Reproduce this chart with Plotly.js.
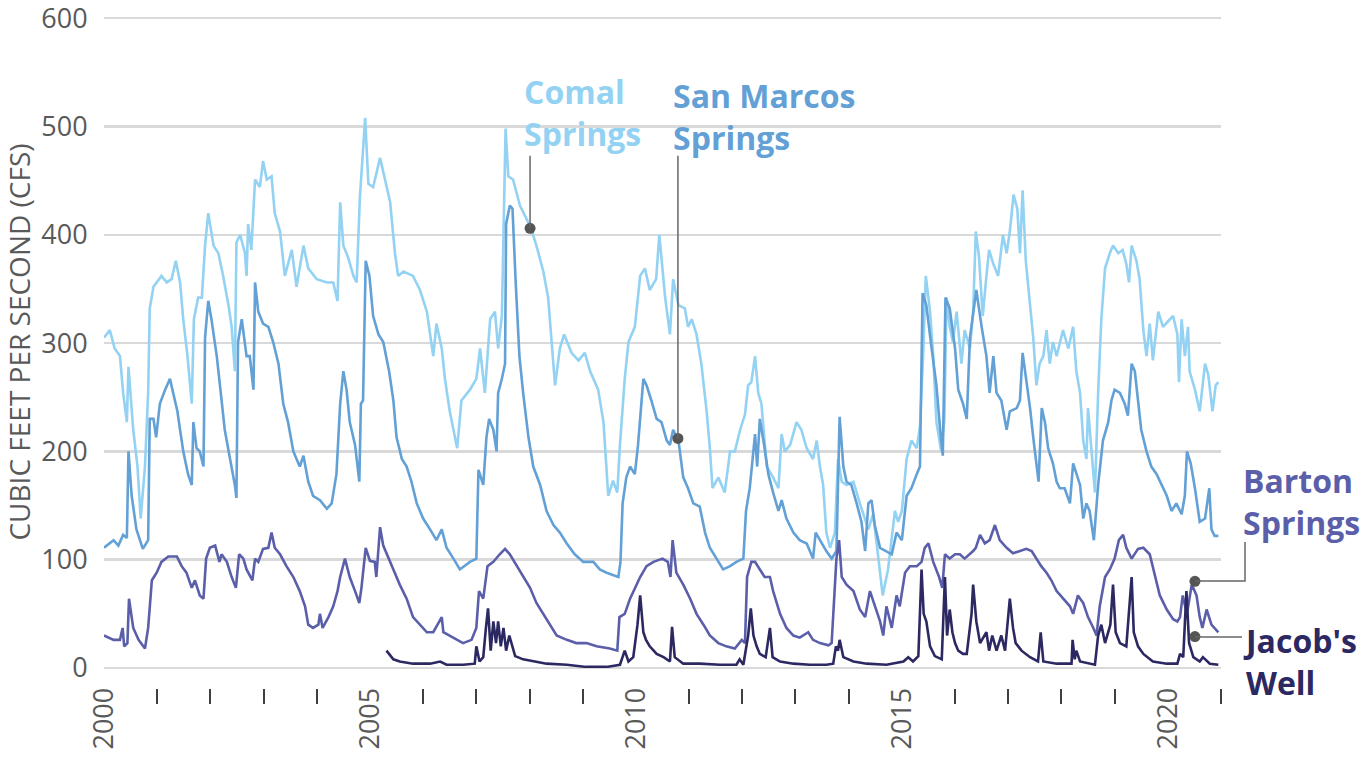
<!DOCTYPE html>
<html>
<head>
<meta charset="utf-8">
<script src="https://cdn.plot.ly/plotly-3.0.1.min.js"></script>
<style>html,body{margin:0;padding:0;background:#fff;}#chart{width:1367px;height:761px;}</style>
</head>
<body>
<div id="chart"></div>
<script>
// ---- Data (decimal years, cubic feet per second) ----
const comalYear = [2000.0,2000.11,2000.2,2000.3,2000.36,2000.43,2000.46,2000.55,2000.63,2000.69,2000.77,2000.83,2000.86,2000.93,2001.08,2001.18,2001.27,2001.35,2001.43,2001.49,2001.57,2001.65,2001.69,2001.77,2001.84,2001.9,2001.96,2002.06,2002.15,2002.24,2002.34,2002.4,2002.46,2002.49,2002.56,2002.65,2002.68,2002.71,2002.77,2002.84,2002.93,2002.99,2003.06,2003.15,2003.21,2003.31,2003.4,2003.53,2003.62,2003.75,2003.84,2004.0,2004.19,2004.31,2004.39,2004.44,2004.5,2004.59,2004.69,2004.75,2004.81,2004.91,2004.97,2005.06,2005.19,2005.28,2005.38,2005.47,2005.53,2005.63,2005.81,2005.94,2006.07,2006.19,2006.25,2006.35,2006.41,2006.5,2006.64,2006.72,2006.88,2007.0,2007.07,2007.16,2007.26,2007.35,2007.41,2007.48,2007.55,2007.6,2007.69,2007.82,2008.02,2008.13,2008.26,2008.35,2008.41,2008.48,2008.57,2008.65,2008.79,2008.92,2009.04,2009.14,2009.29,2009.39,2009.48,2009.57,2009.65,2009.7,2009.79,2009.86,2009.98,2010.08,2010.17,2010.26,2010.38,2010.44,2010.55,2010.64,2010.7,2010.8,2010.92,2010.98,2011.05,2011.14,2011.23,2011.33,2011.39,2011.44,2011.55,2011.67,2011.77,2011.86,2011.96,2012.05,2012.11,2012.17,2012.24,2012.3,2012.36,2012.46,2012.58,2012.68,2012.74,2012.8,2012.9,2013.02,2013.11,2013.21,2013.33,2013.4,2013.46,2013.52,2013.58,2013.65,2013.74,2013.8,2013.87,2013.96,2014.09,2014.21,2014.37,2014.46,2014.56,2014.64,2014.74,2014.81,2014.87,2014.93,2015.0,2015.09,2015.18,2015.28,2015.34,2015.4,2015.45,2015.53,2015.59,2015.65,2015.74,2015.8,2015.84,2015.9,2015.96,2016.03,2016.12,2016.18,2016.28,2016.34,2016.39,2016.45,2016.52,2016.59,2016.64,2016.72,2016.81,2016.9,2016.97,2017.03,2017.1,2017.17,2017.22,2017.27,2017.33,2017.41,2017.47,2017.53,2017.59,2017.66,2017.72,2017.78,2017.84,2017.91,2017.97,2018.03,2018.13,2018.22,2018.28,2018.35,2018.41,2018.47,2018.5,2018.57,2018.63,2018.69,2018.75,2018.82,2018.91,2018.97,2019.07,2019.15,2019.22,2019.27,2019.32,2019.41,2019.47,2019.54,2019.6,2019.66,2019.72,2019.82,2019.91,2020.04,2020.1,2020.18,2020.21,2020.26,2020.32,2020.38,2020.41,2020.51,2020.6,2020.7,2020.76,2020.84,2020.9,2020.95];
const comalCfs = [305,312,295,288,254,227,278,220,186,138,186,254,332,352,362,356,359,376,356,322,288,244,322,342,342,390,420,390,383,362,335,315,274,393,400,383,362,410,386,451,444,468,451,454,420,403,362,386,352,390,369,359,356,356,339,430,390,379,362,356,434,508,447,444,471,451,430,383,362,366,362,349,329,288,318,295,267,237,203,247,257,267,295,254,322,329,295,325,498,454,451,427,407,390,366,342,308,261,295,308,291,284,291,274,257,227,159,173,162,206,267,301,315,362,369,349,359,400,342,308,359,335,332,315,322,308,281,237,203,166,176,162,200,200,220,234,261,264,288,254,244,186,176,166,216,200,206,227,220,203,193,210,186,169,125,111,125,193,172,169,172,152,128,142,101,67,91,118,145,135,145,193,210,203,223,288,362,329,288,227,200,230,342,315,301,329,281,312,295,329,403,380,325,362,386,373,362,400,383,403,437,424,383,441,376,335,305,261,281,288,312,281,301,288,301,312,295,315,274,254,210,193,240,200,162,254,322,369,383,390,383,386,373,356,390,376,359,312,288,318,284,329,315,322,325,308,264,322,288,315,274,257,237,281,271,237,261,264];

const sanMarcosYear = [2000.0,2000.18,2000.27,2000.36,2000.43,2000.46,2000.52,2000.61,2000.73,2000.83,2000.86,2000.93,2000.98,2001.05,2001.15,2001.24,2001.3,2001.38,2001.43,2001.49,2001.58,2001.65,2001.68,2001.74,2001.8,2001.87,2001.9,2001.96,2002.02,2002.12,2002.18,2002.27,2002.37,2002.46,2002.49,2002.52,2002.59,2002.68,2002.74,2002.81,2002.84,2002.9,2002.99,2003.09,2003.18,2003.28,2003.37,2003.46,2003.56,2003.68,2003.75,2003.84,2003.93,2004.06,2004.19,2004.28,2004.37,2004.44,2004.5,2004.56,2004.62,2004.72,2004.8,2004.83,2004.87,2004.92,2004.99,2005.06,2005.16,2005.25,2005.36,2005.44,2005.5,2005.6,2005.69,2005.78,2005.88,2006.0,2006.13,2006.25,2006.35,2006.44,2006.57,2006.69,2006.88,2007.0,2007.04,2007.13,2007.19,2007.24,2007.32,2007.38,2007.41,2007.48,2007.54,2007.56,2007.63,2007.68,2007.74,2007.81,2007.88,2007.98,2008.07,2008.2,2008.32,2008.45,2008.57,2008.7,2008.85,2009.01,2009.2,2009.32,2009.45,2009.57,2009.67,2009.71,2009.75,2009.82,2009.89,2009.98,2010.04,2010.14,2010.2,2010.29,2010.39,2010.48,2010.58,2010.64,2010.7,2010.8,2010.89,2010.98,2011.08,2011.2,2011.3,2011.39,2011.52,2011.64,2011.77,2011.89,2012.02,2012.07,2012.14,2012.2,2012.24,2012.28,2012.33,2012.41,2012.49,2012.58,2012.68,2012.74,2012.83,2012.96,2013.08,2013.21,2013.33,2013.38,2013.46,2013.58,2013.68,2013.77,2013.83,2013.9,2013.96,2014.05,2014.15,2014.24,2014.31,2014.37,2014.43,2014.49,2014.59,2014.71,2014.81,2014.9,2015.0,2015.09,2015.18,2015.28,2015.34,2015.39,2015.46,2015.56,2015.65,2015.72,2015.77,2015.82,2015.9,2016.0,2016.06,2016.15,2016.22,2016.28,2016.34,2016.4,2016.5,2016.59,2016.65,2016.72,2016.78,2016.87,2016.97,2017.03,2017.16,2017.22,2017.27,2017.34,2017.41,2017.47,2017.53,2017.57,2017.63,2017.69,2017.75,2017.84,2017.91,2017.97,2018.06,2018.16,2018.22,2018.28,2018.35,2018.41,2018.47,2018.53,2018.61,2018.69,2018.78,2018.88,2018.94,2019.0,2019.1,2019.19,2019.25,2019.32,2019.38,2019.44,2019.5,2019.6,2019.69,2019.79,2019.88,2019.98,2020.07,2020.16,2020.26,2020.32,2020.36,2020.43,2020.51,2020.6,2020.7,2020.78,2020.82,2020.88,2020.95];
const sanMarcosCfs = [111,118,113,123,120,200,159,128,110,118,230,230,213,244,257,267,254,237,220,200,179,169,227,203,200,186,305,339,322,288,261,220,193,169,157,301,322,288,288,257,356,329,318,315,301,281,244,227,200,186,196,172,159,155,147,152,179,244,274,257,227,206,172,244,247,376,362,325,308,301,274,247,213,193,186,172,152,138,128,118,128,111,101,91,98,101,183,169,213,230,220,200,254,267,281,410,427,424,356,288,254,213,186,169,145,132,125,115,105,98,98,91,88,86,84,98,152,176,186,179,206,267,261,247,230,227,210,206,220,210,176,166,152,149,125,111,101,91,94,98,101,145,166,200,216,186,230,206,179,162,145,155,138,125,118,115,101,125,118,108,101,108,232,186,172,169,152,135,108,152,155,132,111,108,105,125,118,159,166,179,186,346,335,295,261,220,196,342,332,295,257,244,230,305,329,349,315,288,254,288,254,247,220,237,240,247,291,267,240,213,186,172,240,227,203,189,172,166,166,152,189,179,169,138,152,145,118,169,210,227,247,257,254,244,233,281,274,247,220,200,186,179,169,159,145,152,142,159,200,189,166,135,138,166,128,122,122];

const bartonYear = [2000.0,2000.18,2000.3,2000.35,2000.38,2000.44,2000.47,2000.55,2000.65,2000.77,2000.83,2000.9,2000.99,2001.08,2001.21,2001.37,2001.46,2001.55,2001.65,2001.71,2001.8,2001.87,2001.92,2001.99,2002.09,2002.17,2002.21,2002.31,2002.4,2002.48,2002.54,2002.62,2002.68,2002.79,2002.84,2002.9,2002.99,2003.09,2003.15,2003.21,2003.31,2003.43,2003.56,2003.68,2003.78,2003.84,2003.93,2004.03,2004.06,2004.11,2004.22,2004.31,2004.39,2004.44,2004.53,2004.62,2004.72,2004.8,2004.84,2004.92,2005.0,2005.09,2005.12,2005.19,2005.25,2005.36,2005.44,2005.56,2005.69,2005.81,2005.94,2006.07,2006.19,2006.35,2006.38,2006.5,2006.63,2006.75,2006.91,2007.0,2007.05,2007.13,2007.21,2007.32,2007.44,2007.54,2007.63,2007.76,2007.88,2008.01,2008.13,2008.26,2008.38,2008.51,2008.7,2008.88,2009.07,2009.26,2009.51,2009.65,2009.69,2009.79,2009.89,2009.98,2010.08,2010.2,2010.33,2010.5,2010.6,2010.65,2010.69,2010.76,2010.89,2011.02,2011.14,2011.27,2011.39,2011.55,2011.7,2011.86,2011.99,2012.05,2012.09,2012.17,2012.24,2012.33,2012.42,2012.52,2012.58,2012.71,2012.83,2012.96,2013.08,2013.24,2013.33,2013.46,2013.62,2013.68,2013.71,2013.77,2013.82,2013.87,2013.96,2014.09,2014.21,2014.31,2014.4,2014.49,2014.59,2014.65,2014.71,2014.81,2014.9,2014.96,2015.06,2015.15,2015.28,2015.37,2015.43,2015.5,2015.59,2015.7,2015.76,2015.81,2015.9,2016.0,2016.09,2016.18,2016.28,2016.34,2016.39,2016.47,2016.56,2016.65,2016.75,2016.84,2016.97,2017.09,2017.22,2017.34,2017.44,2017.53,2017.62,2017.72,2017.81,2017.91,2018.03,2018.16,2018.22,2018.31,2018.41,2018.5,2018.6,2018.66,2018.72,2018.82,2018.91,2019.0,2019.08,2019.16,2019.22,2019.32,2019.44,2019.54,2019.66,2019.76,2019.85,2019.98,2020.1,2020.18,2020.23,2020.28,2020.36,2020.45,2020.54,2020.6,2020.65,2020.73,2020.82,2020.95];
const bartonCfs = [30,26,26,37,20,23,64,37,26,18,37,81,88,98,103,103,94,88,74,81,67,64,101,111,113,98,105,98,84,74,105,101,91,81,101,98,110,111,125,111,105,94,84,71,57,40,37,40,50,37,47,57,71,84,101,84,71,60,74,111,99,98,84,130,113,101,91,77,64,47,40,33,33,47,33,30,26,23,26,37,71,64,94,98,105,110,105,94,84,74,60,50,40,30,26,23,23,20,18,16,47,50,64,74,84,94,98,101,98,84,118,88,77,64,50,40,30,23,20,18,26,23,84,98,98,91,84,84,71,50,37,30,28,33,26,23,21,23,50,101,118,84,77,71,54,47,71,57,43,30,57,37,67,57,88,94,94,98,111,115,98,84,74,105,101,105,105,101,105,108,111,123,115,118,132,118,111,106,108,110,108,101,94,88,81,71,64,57,50,67,60,47,37,30,57,84,91,101,118,123,111,101,110,111,105,84,67,54,45,43,47,67,50,77,67,47,37,54,40,33,33];

const jacobYear = [2005.31,2005.44,2005.56,2005.81,2006.13,2006.32,2006.44,2006.75,2006.97,2007.0,2007.06,2007.13,2007.18,2007.22,2007.27,2007.32,2007.37,2007.41,2007.46,2007.51,2007.56,2007.62,2007.66,2007.73,2007.88,2008.07,2008.32,2008.7,2009.07,2009.45,2009.7,2009.79,2009.86,2009.95,2010.03,2010.08,2010.14,2010.19,2010.26,2010.39,2010.52,2010.64,2010.68,2010.73,2010.89,2011.2,2011.58,2011.89,2011.95,2012.02,2012.07,2012.11,2012.16,2012.21,2012.27,2012.33,2012.44,2012.52,2012.57,2012.71,2012.96,2013.27,2013.58,2013.71,2013.76,2013.8,2013.83,2013.9,2014.09,2014.34,2014.71,2015.03,2015.12,2015.21,2015.31,2015.37,2015.41,2015.46,2015.53,2015.62,2015.75,2015.81,2015.85,2015.9,2015.95,2016.0,2016.06,2016.15,2016.22,2016.31,2016.34,2016.4,2016.47,2016.59,2016.64,2016.7,2016.78,2016.87,2016.94,2017.03,2017.09,2017.14,2017.25,2017.41,2017.56,2017.61,2017.66,2017.91,2018.19,2018.21,2018.25,2018.28,2018.35,2018.53,2018.63,2018.69,2018.75,2018.82,2018.88,2018.92,2018.97,2019.02,2019.1,2019.22,2019.32,2019.36,2019.44,2019.54,2019.72,2019.98,2020.18,2020.23,2020.29,2020.35,2020.4,2020.48,2020.6,2020.66,2020.79,2020.95];
const jacobCfs = [16,8,6,4,4,6,3,3,4,20,6,10,37,55,16,43,23,43,20,37,16,30,23,11,8,6,4,3,1,1,3,16,6,10,40,67,33,26,20,13,10,6,38,10,4,4,3,3,8,3,16,30,55,30,20,13,10,37,10,6,4,3,3,4,20,16,26,10,6,4,3,6,10,6,11,91,50,43,20,11,8,84,30,54,33,23,16,13,13,50,77,43,23,33,16,30,16,30,16,64,37,23,16,10,6,33,6,4,4,26,8,16,6,4,3,30,40,23,33,40,77,33,23,20,84,33,20,13,6,4,4,13,10,71,23,10,6,10,4,3];

const yearTicks = [2000, 2005, 2010, 2015, 2020];
const yearTickText = ["2000", "2005", "2010", "2015", "2020"];
const minorYears = [2001,2002,2003,2004,2006,2007,2008,2009,2011,2012,2013,2014,2016,2017,2018,2019,2021];
const cfsTicks = [0, 100, 200, 300, 400, 500, 600];

const seriesNames = ["Comal Springs", "San Marcos Springs", "Barton Springs", "Jacob's Well"];
const seriesColors = ["#93d2f2", "#62a0d6", "#5b5faa", "#2c2862"];

// callout dots (label anchors on the lines)
const calloutYear = [2008.01, 2010.79, 2020.51, 2020.51];
const calloutCfs = [406, 212, 80, 29];

const xs = [comalYear, sanMarcosYear, bartonYear, jacobYear];
const ys = [comalCfs, sanMarcosCfs, bartonCfs, jacobCfs];

const traces = xs.map((x, i) => ({
  type: 'scatter', mode: 'lines', name: seriesNames[i],
  x: x, y: ys[i],
  line: {color: seriesColors[i], width: 2.6},
  hoverinfo: 'skip', showlegend: false
}));
traces.push({
  type: 'scatter', mode: 'markers', x: calloutYear, y: calloutCfs,
  marker: {color: '#555555', size: 11}, cliponaxis: false,
  hoverinfo: 'skip', showlegend: false
});
// empty trace so the secondary (tick-mark only) x axis is drawn
traces.push({
  type: 'scatter', mode: 'lines', xaxis: 'x2', yaxis: 'y',
  x: minorYears, y: minorYears.map(() => null),
  hoverinfo: 'skip', showlegend: false
});

const labelFont = (c) => ({family: 'Open Sans, sans-serif', size: 32, color: c, weight: 700});
const lineStyle = {color: '#666666', width: 1.5};

const layout = {
  width: 1367, height: 761,
  margin: {l: 104, r: 146, t: 16, b: 73},
  paper_bgcolor: '#ffffff', plot_bgcolor: '#ffffff',
  showlegend: false,
  font: {family: 'Open Sans, sans-serif', color: '#595959'},
  xaxis: {
    range: [2000, 2021], tickvals: yearTicks, ticktext: yearTickText,
    tickangle: -90, showgrid: false, zeroline: false, showline: false,
    ticks: 'outside', ticklen: 8, tickcolor: 'rgba(0,0,0,0)',
    tickfont: {size: 27, color: '#595959'}, ticklabeloverflow: 'allow'
  },
  xaxis2: {
    range: [2000, 2021], overlaying: 'x', anchor: 'free', position: 0, side: 'bottom',
    tickvals: minorYears, showticklabels: false, ticks: 'outside', ticklen: 15,
    tickwidth: 2, tickcolor: '#404040', showgrid: false, zeroline: false, showline: false
  },
  yaxis: {
    domain: [20/672, 1], range: [0, 602], tickvals: cfsTicks,
    showgrid: true, gridcolor: '#d9d9d9', gridwidth: 2.5,
    zeroline: true, zerolinecolor: '#d9d9d9', zerolinewidth: 2.5,
    showline: false, ticks: 'outside', ticklen: 10, tickcolor: 'rgba(0,0,0,0)',
    tickfont: {size: 27, color: '#595959'}, ticklabeloverflow: 'allow',
    title: {text: 'CUBIC FEET PER SECOND (CFS)', font: {size: 28, color: '#595959'}, standoff: 12}
  },
  shapes: [
    {type: 'line', xref: 'x', yref: 'y', x0: calloutYear[0], x1: calloutYear[0], y0: calloutCfs[0], y1: 473, line: lineStyle},
    {type: 'line', xref: 'x', yref: 'y', x0: calloutYear[1], x1: calloutYear[1], y0: calloutCfs[1], y1: 473, line: lineStyle},
    {type: 'path', xref: 'paper', yref: 'paper', path: 'M 0.9767 0.1592 L 1.0215 0.1592 L 1.0215 0.2173', line: lineStyle},
    {type: 'line', xref: 'paper', yref: 'paper', x0: 0.9767, x1: 1.0188, y0: 0.0759, y1: 0.0759, line: lineStyle}
  ],
  annotations: [
    {text: 'Comal<br>Springs', xref: 'paper', yref: 'paper', x: 0.374, y: 0.922, xanchor: 'left', yanchor: 'top', align: 'left', showarrow: false, font: labelFont(seriesColors[0])},
    {text: 'San Marcos<br>Springs', xref: 'paper', yref: 'paper', x: 0.508, y: 0.917, xanchor: 'left', yanchor: 'top', align: 'left', showarrow: false, font: labelFont(seriesColors[1])},
    {text: 'Barton<br>Springs', xref: 'paper', yref: 'paper', x: 1.018, y: 0.344, xanchor: 'left', yanchor: 'top', align: 'left', showarrow: false, font: labelFont(seriesColors[2])},
    {text: "Jacob's<br>Well", xref: 'paper', yref: 'paper', x: 1.018, y: 0.1057, xanchor: 'left', yanchor: 'top', align: 'left', showarrow: false, font: labelFont(seriesColors[3])}
  ]
};

Plotly.newPlot('chart', traces, layout, {displayModeBar: false, staticPlot: true});
</script>
</body>
</html>
